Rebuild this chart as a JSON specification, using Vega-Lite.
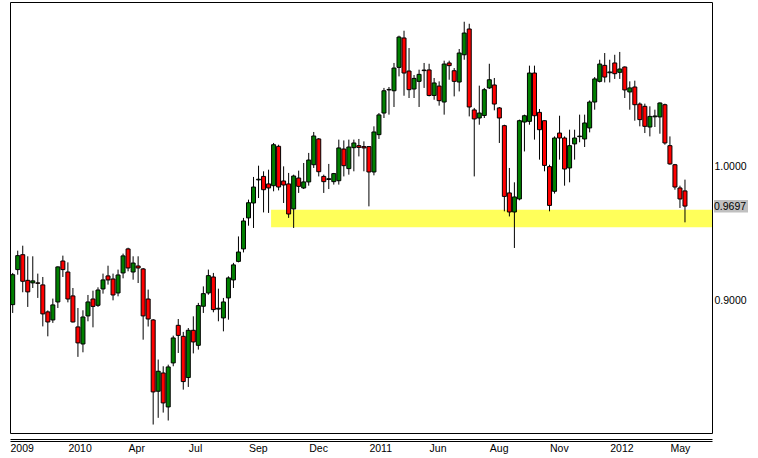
{
  "$schema": "https://vega.github.io/schema/vega-lite/v6.json",
  "width": 702,
  "height": 431,
  "padding": {"left": 10, "top": 2, "right": 0, "bottom": 0},
  "autosize": {"type": "pad"},
  "background": "white",
  "config": {
    "view": {"stroke": "black", "strokeWidth": 1},
    "axis": {"labelFont": "Liberation Sans", "labelFontSize": 10.5, "labelColor": "black", "grid": false, "ticks": false, "tickSize": 0, "domain": false}
  },
  "datasets": {
    "zone": [{"d": "2010-10-28T12:00:00Z", "d2": "2012-07-04T16:50:00Z", "hi": 0.9670, "lo": 0.9539}],
    "last": [{"d": "2012-07-04T16:50:00Z", "p": 0.9697, "hi": 0.9743, "lo": 0.9649}],
    "candles": [
      {"d": "2009-11-02", "o": 0.8963, "h": 0.9199, "l": 0.8901, "c": 0.9186},
      {"d": "2009-11-09", "o": 0.9224, "h": 0.9365, "l": 0.9186, "c": 0.9328},
      {"d": "2009-11-16", "o": 0.9335, "h": 0.9402, "l": 0.9055, "c": 0.9137},
      {"d": "2009-11-23", "o": 0.9144, "h": 0.9323, "l": 0.8946, "c": 0.9058},
      {"d": "2009-11-30", "o": 0.9125, "h": 0.9323, "l": 0.9087, "c": 0.9140},
      {"d": "2009-12-07", "o": 0.9125, "h": 0.9194, "l": 0.9013, "c": 0.9122},
      {"d": "2009-12-14", "o": 0.9110, "h": 0.9169, "l": 0.8801, "c": 0.8894},
      {"d": "2009-12-21", "o": 0.8909, "h": 0.8920, "l": 0.8727, "c": 0.8834},
      {"d": "2009-12-28", "o": 0.8849, "h": 0.9008, "l": 0.8827, "c": 0.8961},
      {"d": "2010-01-04", "o": 0.8983, "h": 0.9248, "l": 0.8938, "c": 0.9244},
      {"d": "2010-01-11", "o": 0.9288, "h": 0.9328, "l": 0.9169, "c": 0.9224},
      {"d": "2010-01-18", "o": 0.9206, "h": 0.9278, "l": 0.8980, "c": 0.9005},
      {"d": "2010-01-25", "o": 0.9028, "h": 0.9087, "l": 0.8830, "c": 0.8834},
      {"d": "2010-02-01", "o": 0.8797, "h": 0.8938, "l": 0.8574, "c": 0.8678},
      {"d": "2010-02-08", "o": 0.8670, "h": 0.8921, "l": 0.8608, "c": 0.8871},
      {"d": "2010-02-15", "o": 0.8879, "h": 0.9035, "l": 0.8839, "c": 0.8983},
      {"d": "2010-02-22", "o": 0.9005, "h": 0.9067, "l": 0.8794, "c": 0.8950},
      {"d": "2010-03-01", "o": 0.8958, "h": 0.9092, "l": 0.8946, "c": 0.9072},
      {"d": "2010-03-08", "o": 0.9080, "h": 0.9194, "l": 0.9045, "c": 0.9147},
      {"d": "2010-03-15", "o": 0.9177, "h": 0.9253, "l": 0.9112, "c": 0.9147},
      {"d": "2010-03-22", "o": 0.9154, "h": 0.9194, "l": 0.8995, "c": 0.9035},
      {"d": "2010-03-29", "o": 0.9050, "h": 0.9224, "l": 0.9025, "c": 0.9184},
      {"d": "2010-04-05", "o": 0.9199, "h": 0.9343, "l": 0.9159, "c": 0.9326},
      {"d": "2010-04-12", "o": 0.9378, "h": 0.9387, "l": 0.9211, "c": 0.9236},
      {"d": "2010-04-19", "o": 0.9206, "h": 0.9323, "l": 0.9149, "c": 0.9273},
      {"d": "2010-04-26", "o": 0.9251, "h": 0.9323, "l": 0.9124, "c": 0.9236},
      {"d": "2010-05-03", "o": 0.9229, "h": 0.9236, "l": 0.8702, "c": 0.8879},
      {"d": "2010-05-10", "o": 0.9005, "h": 0.9075, "l": 0.8800, "c": 0.8856},
      {"d": "2010-05-17", "o": 0.8849, "h": 0.8856, "l": 0.8070, "c": 0.8313},
      {"d": "2010-05-24", "o": 0.8318, "h": 0.8554, "l": 0.8120, "c": 0.8467},
      {"d": "2010-05-31", "o": 0.8454, "h": 0.8504, "l": 0.8159, "c": 0.8231},
      {"d": "2010-06-07", "o": 0.8201, "h": 0.8516, "l": 0.8100, "c": 0.8499},
      {"d": "2010-06-14", "o": 0.8529, "h": 0.8732, "l": 0.8504, "c": 0.8715},
      {"d": "2010-06-21", "o": 0.8809, "h": 0.8856, "l": 0.8603, "c": 0.8734},
      {"d": "2010-06-28", "o": 0.8727, "h": 0.8760, "l": 0.8330, "c": 0.8390},
      {"d": "2010-07-05", "o": 0.8420, "h": 0.8789, "l": 0.8350, "c": 0.8772},
      {"d": "2010-07-12", "o": 0.8772, "h": 0.8876, "l": 0.8600, "c": 0.8685},
      {"d": "2010-07-19", "o": 0.8660, "h": 0.8976, "l": 0.8628, "c": 0.8956},
      {"d": "2010-07-26", "o": 0.8951, "h": 0.9099, "l": 0.8901, "c": 0.9045},
      {"d": "2010-08-02", "o": 0.9050, "h": 0.9224, "l": 0.9037, "c": 0.9179},
      {"d": "2010-08-09", "o": 0.9169, "h": 0.9199, "l": 0.8906, "c": 0.8926},
      {"d": "2010-08-16", "o": 0.8930, "h": 0.9082, "l": 0.8839, "c": 0.8936},
      {"d": "2010-08-23", "o": 0.8864, "h": 0.9013, "l": 0.8764, "c": 0.8983},
      {"d": "2010-08-30", "o": 0.9013, "h": 0.9174, "l": 0.8851, "c": 0.9162},
      {"d": "2010-09-06", "o": 0.9147, "h": 0.9274, "l": 0.9087, "c": 0.9259},
      {"d": "2010-09-13", "o": 0.9285, "h": 0.9471, "l": 0.9278, "c": 0.9355},
      {"d": "2010-09-20", "o": 0.9378, "h": 0.9609, "l": 0.9352, "c": 0.9586},
      {"d": "2010-09-27", "o": 0.9609, "h": 0.9745, "l": 0.9551, "c": 0.9722},
      {"d": "2010-10-04", "o": 0.9720, "h": 0.9914, "l": 0.9534, "c": 0.9839},
      {"d": "2010-10-11", "o": 0.9892, "h": 0.9998, "l": 0.9757, "c": 0.9897},
      {"d": "2010-10-18", "o": 0.9918, "h": 0.9956, "l": 0.9650, "c": 0.9819},
      {"d": "2010-10-25", "o": 0.9862, "h": 0.9968, "l": 0.9646, "c": 0.9832},
      {"d": "2010-11-01", "o": 0.9849, "h": 1.0167, "l": 0.9807, "c": 1.0154},
      {"d": "2010-11-08", "o": 1.0142, "h": 1.0154, "l": 0.9814, "c": 0.9839},
      {"d": "2010-11-15", "o": 0.9884, "h": 0.9993, "l": 0.9720, "c": 0.9854},
      {"d": "2010-11-22", "o": 0.9862, "h": 0.9944, "l": 0.9609, "c": 0.9638},
      {"d": "2010-11-29", "o": 0.9676, "h": 0.9931, "l": 0.9534, "c": 0.9921},
      {"d": "2010-12-06", "o": 0.9906, "h": 0.9961, "l": 0.9795, "c": 0.9844},
      {"d": "2010-12-13", "o": 0.9832, "h": 1.0018, "l": 0.9824, "c": 0.9877},
      {"d": "2010-12-20", "o": 0.9877, "h": 1.0093, "l": 0.9849, "c": 1.0040},
      {"d": "2010-12-27", "o": 1.0005, "h": 1.0249, "l": 0.9981, "c": 1.0219},
      {"d": "2011-01-03", "o": 1.0197, "h": 1.0204, "l": 0.9918, "c": 0.9953},
      {"d": "2011-01-10", "o": 0.9918, "h": 0.9931, "l": 0.9795, "c": 0.9879},
      {"d": "2011-01-17", "o": 0.9895, "h": 1.0011, "l": 0.9824, "c": 0.9901},
      {"d": "2011-01-24", "o": 0.9879, "h": 0.9944, "l": 0.9857, "c": 0.9939},
      {"d": "2011-01-31", "o": 0.9886, "h": 1.0192, "l": 0.9857, "c": 1.0130},
      {"d": "2011-02-07", "o": 1.0122, "h": 1.0186, "l": 0.9918, "c": 0.9998},
      {"d": "2011-02-14", "o": 0.9976, "h": 1.0192, "l": 0.9931, "c": 1.0137},
      {"d": "2011-02-21", "o": 1.0132, "h": 1.0192, "l": 0.9956, "c": 1.0167},
      {"d": "2011-02-28", "o": 1.0147, "h": 1.0197, "l": 1.0067, "c": 1.0134},
      {"d": "2011-03-07", "o": 1.0140, "h": 1.0179, "l": 0.9956, "c": 1.0130},
      {"d": "2011-03-14", "o": 1.0140, "h": 1.0142, "l": 0.9695, "c": 0.9951},
      {"d": "2011-03-21", "o": 0.9951, "h": 1.0291, "l": 0.9926, "c": 1.0249},
      {"d": "2011-03-28", "o": 1.0229, "h": 1.0390, "l": 1.0197, "c": 1.0376},
      {"d": "2011-04-04", "o": 1.0390, "h": 1.0577, "l": 1.0353, "c": 1.0556},
      {"d": "2011-04-11", "o": 1.0562, "h": 1.0584, "l": 1.0378, "c": 1.0566},
      {"d": "2011-04-18", "o": 1.0556, "h": 1.0763, "l": 1.0435, "c": 1.0725},
      {"d": "2011-04-25", "o": 1.0730, "h": 1.0966, "l": 1.0663, "c": 1.0956},
      {"d": "2011-05-02", "o": 1.0949, "h": 1.1003, "l": 1.0519, "c": 1.0688},
      {"d": "2011-05-09", "o": 1.0703, "h": 1.0874, "l": 1.0502, "c": 1.0564},
      {"d": "2011-05-16", "o": 1.0569, "h": 1.0673, "l": 1.0502, "c": 1.0648},
      {"d": "2011-05-23", "o": 1.0626, "h": 1.0713, "l": 1.0435, "c": 1.0678},
      {"d": "2011-05-30", "o": 1.0706, "h": 1.0763, "l": 1.0577, "c": 1.0710},
      {"d": "2011-06-06", "o": 1.0711, "h": 1.0757, "l": 1.0514, "c": 1.0521},
      {"d": "2011-06-13", "o": 1.0521, "h": 1.0651, "l": 1.0489, "c": 1.0614},
      {"d": "2011-06-20", "o": 1.0591, "h": 1.0626, "l": 1.0445, "c": 1.0482},
      {"d": "2011-06-27", "o": 1.0472, "h": 1.0780, "l": 1.0378, "c": 1.0755},
      {"d": "2011-07-04", "o": 1.0763, "h": 1.0780, "l": 1.0638, "c": 1.0743},
      {"d": "2011-07-11", "o": 1.0705, "h": 1.0725, "l": 1.0514, "c": 1.0626},
      {"d": "2011-07-18", "o": 1.0621, "h": 1.0867, "l": 1.0551, "c": 1.0837},
      {"d": "2011-07-25", "o": 1.0824, "h": 1.1070, "l": 1.0787, "c": 1.0986},
      {"d": "2011-08-01", "o": 1.1016, "h": 1.1055, "l": 1.0365, "c": 1.0435},
      {"d": "2011-08-08", "o": 1.0413, "h": 1.0428, "l": 0.9918, "c": 1.0346},
      {"d": "2011-08-15", "o": 1.0353, "h": 1.0594, "l": 1.0303, "c": 1.0390},
      {"d": "2011-08-22", "o": 1.0372, "h": 1.0577, "l": 1.0353, "c": 1.0564},
      {"d": "2011-08-29", "o": 1.0577, "h": 1.0757, "l": 1.0569, "c": 1.0638},
      {"d": "2011-09-05", "o": 1.0599, "h": 1.0651, "l": 1.0410, "c": 1.0457},
      {"d": "2011-09-12", "o": 1.0428, "h": 1.0435, "l": 1.0167, "c": 1.0353},
      {"d": "2011-09-19", "o": 1.0296, "h": 1.0303, "l": 0.9658, "c": 0.9769},
      {"d": "2011-09-26", "o": 0.9795, "h": 0.9981, "l": 0.9620, "c": 0.9653},
      {"d": "2011-10-03", "o": 0.9653, "h": 0.9874, "l": 0.9385, "c": 0.9765},
      {"d": "2011-10-10", "o": 0.9750, "h": 1.0341, "l": 0.9740, "c": 1.0333},
      {"d": "2011-10-17", "o": 1.0323, "h": 1.0378, "l": 1.0104, "c": 1.0370},
      {"d": "2011-10-24", "o": 1.0328, "h": 1.0743, "l": 1.0303, "c": 1.0688},
      {"d": "2011-10-31", "o": 1.0688, "h": 1.0743, "l": 1.0192, "c": 1.0370},
      {"d": "2011-11-07", "o": 1.0395, "h": 1.0420, "l": 1.0043, "c": 1.0266},
      {"d": "2011-11-14", "o": 1.0333, "h": 1.0335, "l": 0.9956, "c": 1.0000},
      {"d": "2011-11-21", "o": 0.9991, "h": 1.0005, "l": 0.9658, "c": 0.9702},
      {"d": "2011-11-28", "o": 0.9807, "h": 1.0216, "l": 0.9790, "c": 1.0204},
      {"d": "2011-12-05", "o": 1.0241, "h": 1.0370, "l": 1.0043, "c": 1.0204},
      {"d": "2011-12-12", "o": 1.0204, "h": 1.0216, "l": 0.9849, "c": 0.9973},
      {"d": "2011-12-19", "o": 0.9981, "h": 1.0266, "l": 0.9874, "c": 1.0147},
      {"d": "2011-12-26", "o": 1.0160, "h": 1.0266, "l": 1.0043, "c": 1.0204},
      {"d": "2012-01-02", "o": 1.0214, "h": 1.0378, "l": 1.0172, "c": 1.0218},
      {"d": "2012-01-09", "o": 1.0197, "h": 1.0378, "l": 1.0137, "c": 1.0316},
      {"d": "2012-01-16", "o": 1.0279, "h": 1.0484, "l": 1.0246, "c": 1.0472},
      {"d": "2012-01-23", "o": 1.0472, "h": 1.0658, "l": 1.0415, "c": 1.0644},
      {"d": "2012-01-30", "o": 1.0626, "h": 1.0787, "l": 1.0618, "c": 1.0755},
      {"d": "2012-02-06", "o": 1.0745, "h": 1.0837, "l": 1.0618, "c": 1.0658},
      {"d": "2012-02-13", "o": 1.0690, "h": 1.0787, "l": 1.0618, "c": 1.0696},
      {"d": "2012-02-20", "o": 1.0763, "h": 1.0824, "l": 1.0644, "c": 1.0683},
      {"d": "2012-02-27", "o": 1.0693, "h": 1.0845, "l": 1.0644, "c": 1.0718},
      {"d": "2012-03-05", "o": 1.0733, "h": 1.0737, "l": 1.0502, "c": 1.0562},
      {"d": "2012-03-12", "o": 1.0547, "h": 1.0626, "l": 1.0415, "c": 1.0577},
      {"d": "2012-03-19", "o": 1.0584, "h": 1.0631, "l": 1.0333, "c": 1.0452},
      {"d": "2012-03-26", "o": 1.0457, "h": 1.0469, "l": 1.0291, "c": 1.0341},
      {"d": "2012-04-02", "o": 1.0440, "h": 1.0460, "l": 1.0241, "c": 1.0291},
      {"d": "2012-04-09", "o": 1.0286, "h": 1.0440, "l": 1.0216, "c": 1.0365},
      {"d": "2012-04-16", "o": 1.0362, "h": 1.0415, "l": 1.0286, "c": 1.0368},
      {"d": "2012-04-23", "o": 1.0361, "h": 1.0469, "l": 1.0236, "c": 1.0465},
      {"d": "2012-04-30", "o": 1.0452, "h": 1.0460, "l": 1.0154, "c": 1.0167},
      {"d": "2012-05-07", "o": 1.0147, "h": 1.0216, "l": 1.0005, "c": 1.0011},
      {"d": "2012-05-14", "o": 1.0005, "h": 1.0011, "l": 0.9819, "c": 0.9839},
      {"d": "2012-05-21", "o": 0.9832, "h": 0.9849, "l": 0.9683, "c": 0.9750},
      {"d": "2012-05-28", "o": 0.9810, "h": 0.9894, "l": 0.9576, "c": 0.9697}
    ]
  },
  "resolve": {"axis": {"x": "independent"}},
  "layer": [
    {
      "data": {"name": "zone"},
      "mark": {"type": "rect", "color": "#ffff5a"},
      "encoding": {
        "x": {"field": "d", "type": "temporal",
          "scale": {"type": "utc", "nice": false, "padding": 0, "domain": [{"year": 2009, "month": 10, "date": 29, "hours": 5, "minutes": 30, "utc": true}, {"year": 2012, "month": 7, "date": 4, "hours": 16, "minutes": 50, "utc": true}]},
          "axis": {"orient": "bottom", "offset": 8, "labels": false, "ticks": false, "grid": false, "domain": true, "domainColor": "black", "domainWidth": 1, "title": null}},
        "x2": {"field": "d2"},
        "y": {"field": "hi", "type": "quantitative",
          "scale": {"domain": [0.8007, 1.1217], "nice": false, "zero": false, "padding": 0},
          "axis": {"orient": "right", "values": [0.9, 1.0], "format": ".4f", "labelPadding": 2, "labelBaseline": "middle", "labelOffset": 1, "title": null, "domain": false, "ticks": false, "grid": false}},
        "y2": {"field": "lo"}
      }
    },
    {
      "data": {"name": "candles"},
      "mark": {"type": "rule", "color": "black", "strokeWidth": 1},
      "encoding": {
        "x": {"field": "d", "type": "temporal",
          "scale": {"type": "utc", "nice": false, "padding": 0, "domain": [{"year": 2009, "month": 10, "date": 29, "hours": 5, "minutes": 30, "utc": true}, {"year": 2012, "month": 7, "date": 4, "hours": 16, "minutes": 50, "utc": true}]},
          "axis": null},
        "y": {"field": "l", "type": "quantitative", "scale": {"domain": [0.8007, 1.1217], "nice": false, "zero": false, "padding": 0}, "axis": {"title": null}},
        "y2": {"field": "h"}
      }
    },
    {
      "data": {"name": "candles"},
      "mark": {"type": "bar", "width": 4, "stroke": "black", "strokeWidth": 1},
      "encoding": {
        "x": {"field": "d", "type": "temporal",
          "scale": {"type": "utc", "nice": false, "padding": 0, "domain": [{"year": 2009, "month": 10, "date": 29, "hours": 5, "minutes": 30, "utc": true}, {"year": 2012, "month": 7, "date": 4, "hours": 16, "minutes": 50, "utc": true}]},
          "axis": {"orient": "bottom", "offset": 6, "title": null, "domain": true, "domainColor": "black", "domainWidth": 1, "ticks": false, "grid": false,
            "values": [
              {"year": 2009, "month": 10, "date": 29, "hours": 5, "minutes": 30, "utc": true},
              {"year": 2010, "month": 1, "date": 18, "utc": true},
              {"year": 2010, "month": 4, "date": 12, "utc": true},
              {"year": 2010, "month": 7, "date": 5, "utc": true},
              {"year": 2010, "month": 9, "date": 27, "utc": true},
              {"year": 2010, "month": 12, "date": 20, "utc": true},
              {"year": 2011, "month": 3, "date": 14, "utc": true},
              {"year": 2011, "month": 6, "date": 6, "utc": true},
              {"year": 2011, "month": 8, "date": 29, "utc": true},
              {"year": 2011, "month": 11, "date": 21, "utc": true},
              {"year": 2012, "month": 2, "date": 13, "utc": true},
              {"year": 2012, "month": 5, "date": 7, "utc": true}
            ],
            "labelExpr": "datum.index == 0 || utcmonth(datum.value) < 3 ? utcFormat(datum.value, '%Y') : utcFormat(datum.value, '%b')",
            "labelAlign": "left", "labelBaseline": "top", "labelPadding": 4, "labelAngle": 0,
            "labelFlush": false, "labelOverlap": false, "labelBound": false}},
        "y": {"field": "o", "type": "quantitative", "scale": {"domain": [0.8007, 1.1217], "nice": false, "zero": false, "padding": 0}, "axis": {"title": null}},
        "y2": {"field": "c"},
        "fill": {"condition": {"test": "datum.c >= datum.o", "value": "#008000"}, "value": "#ff0000"}
      }
    },
    {
      "data": {"name": "last"},
      "mark": {"type": "bar", "width": 34, "xOffset": 19, "color": "#c0c0c0"},
      "encoding": {
        "x": {"field": "d", "type": "temporal",
          "scale": {"type": "utc", "nice": false, "padding": 0, "domain": [{"year": 2009, "month": 10, "date": 29, "hours": 5, "minutes": 30, "utc": true}, {"year": 2012, "month": 7, "date": 4, "hours": 16, "minutes": 50, "utc": true}]},
          "axis": null},
        "y": {"field": "hi", "type": "quantitative", "scale": {"domain": [0.8007, 1.1217], "nice": false, "zero": false, "padding": 0}, "axis": {"title": null}},
        "y2": {"field": "lo"}
      }
    },
    {
      "data": {"name": "last"},
      "mark": {"type": "text", "align": "left", "baseline": "middle", "dx": 2, "dy": 1, "font": "Liberation Sans", "fontSize": 10.5, "color": "black"},
      "encoding": {
        "x": {"field": "d", "type": "temporal",
          "scale": {"type": "utc", "nice": false, "padding": 0, "domain": [{"year": 2009, "month": 10, "date": 29, "hours": 5, "minutes": 30, "utc": true}, {"year": 2012, "month": 7, "date": 4, "hours": 16, "minutes": 50, "utc": true}]},
          "axis": null},
        "y": {"field": "p", "type": "quantitative", "scale": {"domain": [0.8007, 1.1217], "nice": false, "zero": false, "padding": 0}, "axis": {"title": null}},
        "text": {"field": "p", "type": "quantitative", "format": ".4f"}
      }
    }
  ]
}
